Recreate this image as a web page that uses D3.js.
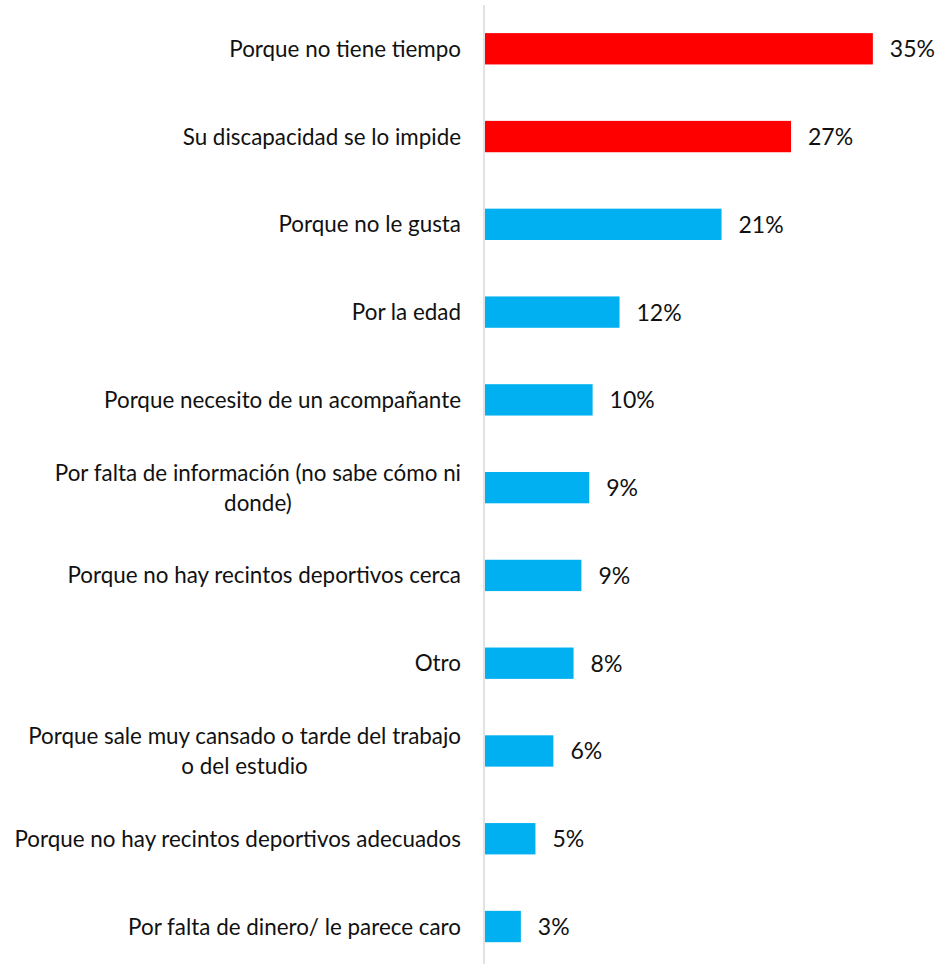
<!DOCTYPE html>
<html>
<head>
<meta charset="utf-8">
<script src="https://cdn.jsdelivr.net/npm/d3@7"></script>
<style>
    body { margin: 0; background: #ffffff; }
    svg text { font-family: Lato, "Open Sans", sans-serif; fill: #111111; }
</style>
</head>
<body>
<div id="chartContainer"></div>
<script>
// Data, top to bottom
var categories = [
    'Porque no tiene tiempo',
    'Su discapacidad se lo impide',
    'Porque no le gusta',
    'Por la edad',
    'Porque necesito de un acompañante',
    'Por falta de información (no sabe cómo ni donde)',
    'Porque no hay recintos deportivos cerca',
    'Otro',
    'Porque sale muy cansado o tarde del trabajo o del estudio',
    'Porque no hay recintos deportivos adecuados',
    'Por falta de dinero/ le parece caro'
];
// label lines as wrapped in the picture
var labelLines = [
    ['Porque no tiene tiempo'],
    ['Su discapacidad se lo impide'],
    ['Porque no le gusta'],
    ['Por la edad'],
    ['Porque necesito de un acompañante'],
    ['Por falta de información (no sabe cómo ni', 'donde)'],
    ['Porque no hay recintos deportivos cerca'],
    ['Otro'],
    ['Porque sale muy cansado o tarde del trabajo', 'o del estudio'],
    ['Porque no hay recintos deportivos adecuados'],
    ['Por falta de dinero/ le parece caro']
];
var values = [34.6, 27.3, 21.1, 12.0, 9.6, 9.3, 8.6, 7.9, 6.1, 4.5, 3.2];
var highlighted = ['Porque no tiene tiempo', 'Su discapacidad se lo impide'];

var width = 937;
var height = 964;

var axisXPos = 485;
var labelRight = 461;
var valueOffset = 17;
var labelFontSize = 22.4;
var valueFontSize = 23;
var lineHeight = 30;

var red = '#ff0000';
var blue = '#00b0f0';

var data = categories.map(function (c, i) {
    return { name: c, lines: labelLines[i], value: values[i] };
});

var svg = d3.select('#chartContainer').append('svg')
    .attr('width', width)
    .attr('height', height);

var x = d3.scaleLinear()
    .domain([0, 40])
    .range([axisXPos, axisXPos + 40 * 11.21]);

var y = d3.scaleBand()
    .domain(categories)
    .range([4.9, 970.4])
    .paddingInner(0.643)
    .paddingOuter(0.3215);

// bars
svg.append('g').selectAll('rect')
    .data(data)
    .enter()
    .append('rect')
    .attr('x', x(0))
    .attr('y', function (d) { return y(d.name); })
    .attr('width', function (d) { return x(d.value) - x(0); })
    .attr('height', y.bandwidth())
    .attr('fill', function (d) {
        return highlighted.indexOf(d.name) !== -1 ? red : blue;
    });

// vertical axis line
svg.append('line')
    .attr('x1', x(0) - 1)
    .attr('x2', x(0) - 1)
    .attr('y1', 5)
    .attr('y2', height)
    .attr('stroke', '#d9d9d9')
    .attr('stroke-width', 1.5);

// value labels
svg.append('g').selectAll('text')
    .data(data)
    .enter()
    .append('text')
    .attr('x', function (d) { return x(d.value) + valueOffset; })
    .attr('y', function (d) { return y(d.name) + y.bandwidth() / 2 + 8.5; })
    .attr('font-size', valueFontSize)
    .text(function (d) { return Math.round(d.value) + '%'; });

// category labels, right aligned block, lines centred inside it
var labels = svg.append('g').selectAll('g')
    .data(data)
    .enter()
    .append('g');

labels.each(function (d) {
    var g = d3.select(this);
    var center = y(d.name) + y.bandwidth() / 2;
    var n = d.lines.length;
    var texts = d.lines.map(function (line, i) {
        return g.append('text')
            .attr('font-size', labelFontSize)
            .attr('y', center + 8 + (i - (n - 1) / 2) * lineHeight)
            .text(line);
    });
    var blockWidth = d3.max(texts, function (t) { return t.node().getComputedTextLength(); });
    texts.forEach(function (t) {
        t.attr('text-anchor', 'middle').attr('x', labelRight - blockWidth / 2);
    });
});
</script>
</body>
</html>
